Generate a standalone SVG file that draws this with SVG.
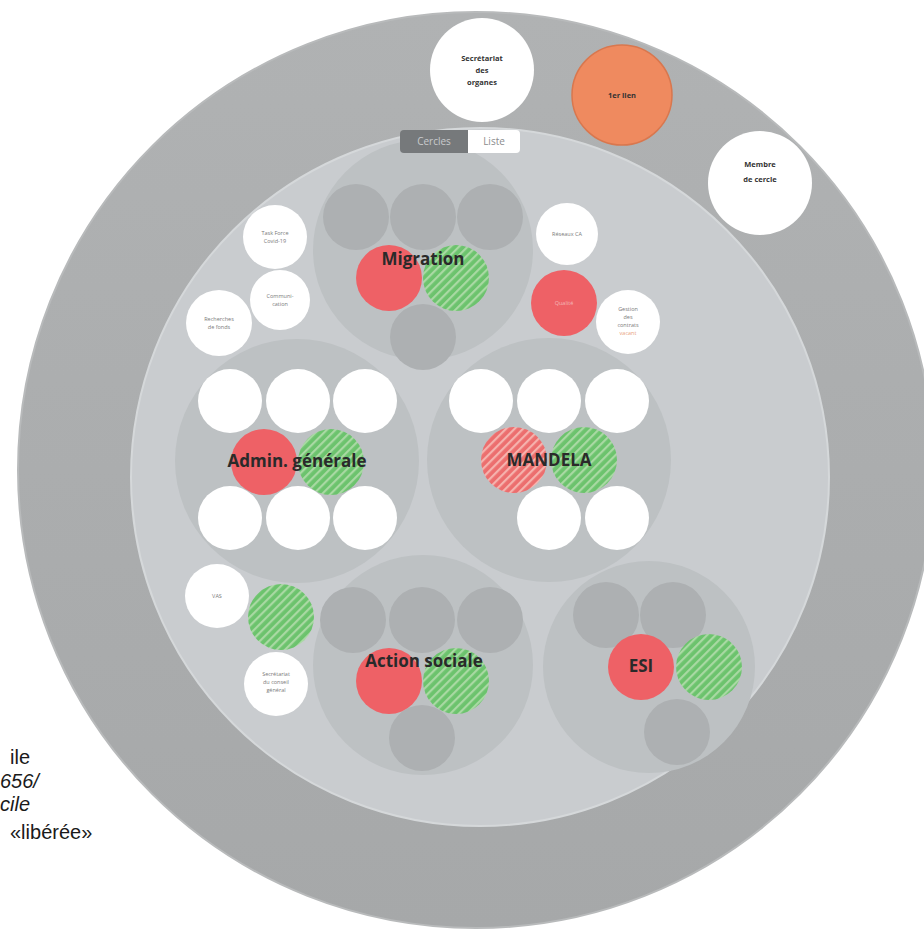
<svg xmlns="http://www.w3.org/2000/svg" width="924" height="937" viewBox="0 0 924 937">
<defs>
<linearGradient id="ringGrad" x1="0" y1="0" x2="0" y2="1">
<stop offset="0" stop-color="#b0b2b3"/>
<stop offset="1" stop-color="#a6a8a9"/>
</linearGradient>
<pattern id="hatchGreen" patternUnits="userSpaceOnUse" width="6" height="6" patternTransform="rotate(45)">
<rect width="6" height="6" fill="#6cc36d"/>
<rect width="2.2" height="6" fill="#a9d9a3"/>
</pattern>
<pattern id="hatchRed" patternUnits="userSpaceOnUse" width="6" height="6" patternTransform="rotate(45)">
<rect width="6" height="6" fill="#ec6e6e"/>
<rect width="2.2" height="6" fill="#f5b2ad"/>
</pattern>
<style>
.group{fill:#bdc1c3}
.ph{fill:#adb0b2}
.white{fill:#ffffff}
.red{fill:#ee6166}
.green{fill:url(#hatchGreen)}
.redh{fill:url(#hatchRed)}
.lbl{font-family:"Open Sans","Liberation Sans",sans-serif;font-weight:700;font-size:17px;fill:#2a2a2a;text-anchor:middle}
.tiny{font-family:"Open Sans","Liberation Sans",sans-serif;font-size:5.5px;fill:#7a7a7a;text-anchor:middle}
.top{font-family:"Open Sans","Liberation Sans",sans-serif;font-weight:700;font-size:7.5px;fill:#333;text-anchor:middle}
.side{font-family:"Liberation Sans",Arial,sans-serif;font-size:20px;fill:#1a1a1a}
.tab{font-family:"Open Sans","Liberation Sans",sans-serif;font-size:10px;text-anchor:middle}
</style>
</defs>
<rect width="924" height="937" fill="#ffffff"/>
<g id="outer-ring">
<circle cx="476" cy="470" r="458" fill="url(#ringGrad)" stroke="#b8babb" stroke-width="2"/>
</g>
<g id="inner-area">
<circle cx="480" cy="477" r="349" fill="#c9cccf" stroke="#d5d8da" stroke-width="2"/>
</g>
<g id="connectors"></g>

<g id="secretariat-organes">
<circle cx="482" cy="70" r="52" class="white"/>
<text class="top" x="482" y="61">Secrétariat</text>
<text class="top" x="482" y="73">des</text>
<text class="top" x="482" y="85">organes</text>
</g>
<g id="premier-lien">
<circle cx="622" cy="95" r="50" fill="#ef8a5f" stroke="#d9774e" stroke-width="1.5"/>
<text class="top" x="622" y="98">1er lien</text>
</g>
<g id="membre-cercle">
<circle cx="760" cy="183" r="52" class="white"/>
<text class="top" x="760" y="167">Membre</text>
<text class="top" x="760" y="182">de cercle</text>
</g>

<g id="migration">
<circle cx="423" cy="250" r="110" class="group"/>
<circle cx="356" cy="217" r="33" class="ph"/>
<circle cx="423" cy="217" r="33" class="ph"/>
<circle cx="490" cy="217" r="33" class="ph"/>
<circle cx="423" cy="337" r="33" class="ph"/>
<circle cx="389" cy="278" r="33" class="red"/>
<circle cx="456" cy="278" r="33" class="green"/>
<text class="lbl" x="423" y="265">Migration</text>
</g>

<g id="admin-generale">
<circle cx="297" cy="461" r="122" class="group"/>
<circle cx="230" cy="401" r="32" class="white"/>
<circle cx="298" cy="401" r="32" class="white"/>
<circle cx="365" cy="401" r="32" class="white"/>
<circle cx="230" cy="518" r="32" class="white"/>
<circle cx="298" cy="518" r="32" class="white"/>
<circle cx="365" cy="518" r="32" class="white"/>
<circle cx="264" cy="462" r="33" class="red"/>
<circle cx="331" cy="462" r="33" class="green"/>
<text class="lbl" x="297" y="467">Admin. générale</text>
</g>

<g id="mandela">
<circle cx="549" cy="460" r="122" class="group"/>
<circle cx="481" cy="401" r="32" class="white"/>
<circle cx="549" cy="401" r="32" class="white"/>
<circle cx="617" cy="401" r="32" class="white"/>
<circle cx="549" cy="518" r="32" class="white"/>
<circle cx="617" cy="518" r="32" class="white"/>
<circle cx="514" cy="460" r="33" class="redh"/>
<circle cx="584" cy="460" r="33" class="green"/>
<text class="lbl" x="549" y="466">MANDELA</text>
</g>

<g id="action-sociale">
<circle cx="423" cy="665" r="110" class="group"/>
<circle cx="353" cy="620" r="33" class="ph"/>
<circle cx="422" cy="620" r="33" class="ph"/>
<circle cx="490" cy="620" r="33" class="ph"/>
<circle cx="422" cy="738" r="33" class="ph"/>
<circle cx="389" cy="681" r="33" class="red"/>
<circle cx="456" cy="681" r="33" class="green"/>
<text class="lbl" x="424" y="667">Action sociale</text>
</g>

<g id="esi">
<circle cx="649" cy="667" r="106" class="group"/>
<circle cx="606" cy="615" r="33" class="ph"/>
<circle cx="673" cy="615" r="33" class="ph"/>
<circle cx="677" cy="732" r="33" class="ph"/>
<circle cx="641" cy="667" r="33" class="red"/>
<circle cx="709" cy="667" r="33" class="green"/>
<text class="lbl" x="641" y="672">ESI</text>
</g>

<g id="task-force">
<circle cx="275" cy="237" r="32" class="white"/>
<text class="tiny" x="275" y="235">Task Force</text>
<text class="tiny" x="275" y="243">Covid-19</text>
</g>
<g id="communication">
<circle cx="280" cy="300" r="30" class="white"/>
<text class="tiny" x="280" y="298">Communi-</text>
<text class="tiny" x="280" y="306">cation</text>
</g>
<g id="recherche-fonds">
<circle cx="219" cy="323" r="33" class="white"/>
<text class="tiny" x="219" y="321">Recherches</text>
<text class="tiny" x="219" y="329">de fonds</text>
</g>
<g id="reseaux-ca">
<circle cx="567" cy="234" r="31" class="white"/>
<text class="tiny" x="567" y="236">Réseaux CA</text>
</g>
<g id="qualite">
<circle cx="564" cy="303" r="33" class="red"/>
<text class="tiny" x="564" y="305" style="fill:#f4b8b8">Qualité</text>
</g>
<g id="gestion-contrats">
<circle cx="628" cy="322" r="32" class="white"/>
<text class="tiny" x="628" y="311">Gestion</text>
<text class="tiny" x="628" y="319">des</text>
<text class="tiny" x="628" y="327">contrats</text>
<text class="tiny" x="628" y="335" style="fill:#e9a27e">vacant</text>
</g>
<g id="vas">
<circle cx="217" cy="596" r="32" class="white"/>
<text class="tiny" x="217" y="598">VAS</text>
</g>
<g id="green-small">
<circle cx="281" cy="617" r="33" class="green"/>
</g>
<g id="secretariat-conseil">
<circle cx="276" cy="684" r="32" class="white"/>
<text class="tiny" x="276" y="676">Secrétariat</text>
<text class="tiny" x="276" y="684">du conseil</text>
<text class="tiny" x="276" y="692">général</text>
</g>

<g id="toggle">
<path d="M404,130 H468 V153 H404 Q400,153 400,149 V134 Q400,130 404,130 Z" fill="#76797b"/>
<path d="M468,130 H516 Q520,130 520,134 V149 Q520,153 516,153 H468 Z" fill="#ffffff"/>
<text class="tab" x="434" y="145" fill="#c9cbcd">Cercles</text>
<text class="tab" x="494" y="145" fill="#8a8c8e">Liste</text>
</g>

<g id="side-text">
<text class="side" x="10" y="764">ile</text>
<text class="side" x="0" y="788" font-style="italic">656/</text>
<text class="side" x="0" y="811" font-style="italic">cile</text>
<text class="side" x="10" y="839">«libérée»</text>
</g>
</svg>
